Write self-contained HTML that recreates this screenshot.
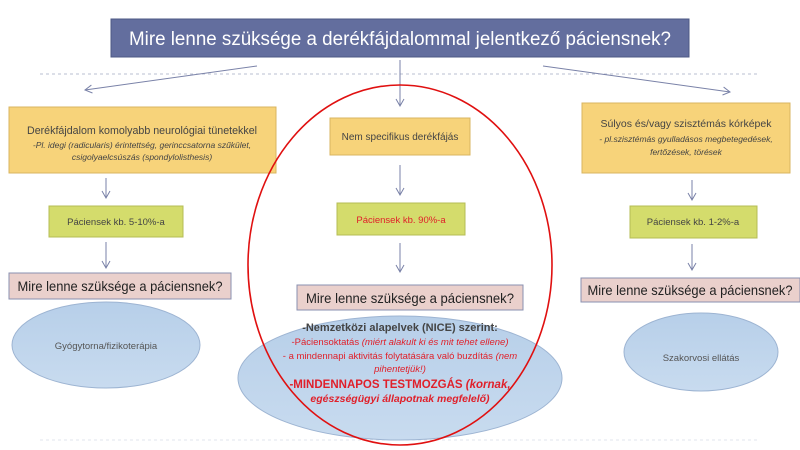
<!DOCTYPE html>
<html><head><meta charset="utf-8"><style>
html,body{margin:0;padding:0;background:#fff;width:800px;height:450px;overflow:hidden}
text{font-family:"Liberation Sans",sans-serif}
</style></head><body>
<svg width="800" height="450" viewBox="0 0 800 450" xmlns="http://www.w3.org/2000/svg">
<defs>
<marker id="a" markerWidth="10" markerHeight="10" refX="8" refY="5" orient="auto" markerUnits="userSpaceOnUse"><path d="M1,1 L8,5 L1,9" fill="none" stroke="#7a82a8" stroke-width="1"/></marker>
<linearGradient id="g" x1="0" y1="0" x2="0" y2="1"><stop offset="0" stop-color="#b7cfe9"/><stop offset="1" stop-color="#c8dbef"/></linearGradient>
</defs>
<line x1="40" y1="74" x2="760" y2="74" stroke="#b8bfd0" stroke-dasharray="3,3"/>
<line x1="40" y1="440" x2="760" y2="440" stroke="#e0e4ec" stroke-dasharray="3,3"/>
<rect x="111" y="19" width="578" height="38" fill="#636e9e" stroke="#4e5884"/>
<text x="400" y="45" font-size="19" fill="#fff" text-anchor="middle" textLength="542" lengthAdjust="spacingAndGlyphs">Mire lenne szüksége a derékfájdalommal jelentkező páciensnek?</text>
<g stroke="#7a82a8" stroke-width="1" fill="none" marker-end="url(#a)">
<line x1="257" y1="66" x2="85" y2="90"/>
<line x1="400" y1="60" x2="400" y2="106"/>
<line x1="543" y1="66" x2="730" y2="92"/>
<line x1="106" y1="178" x2="106" y2="198"/>
<line x1="400" y1="165" x2="400" y2="195"/>
<line x1="692" y1="180" x2="692" y2="200"/>
<line x1="106" y1="242" x2="106" y2="268"/>
<line x1="400" y1="243" x2="400" y2="272"/>
<line x1="692" y1="244" x2="692" y2="270"/>
</g>
<rect x="9" y="107" width="267" height="66" fill="#f7d37a" stroke="#d9b560"/>
<text x="142" y="134" font-size="11" fill="#444" text-anchor="middle" textLength="230" lengthAdjust="spacingAndGlyphs">Derékfájdalom komolyabb neurológiai tünetekkel</text>
<text x="142" y="148" font-size="8.5" fill="#444" text-anchor="middle" font-style="italic">-Pl. idegi (radicularis) érintettség, gerinccsatorna szűkület,</text>
<text x="142" y="160" font-size="8.5" fill="#444" text-anchor="middle" font-style="italic">csigolyaelcsúszás (spondylolisthesis)</text>
<rect x="330" y="118" width="140" height="37" fill="#f7d37a" stroke="#d9b560"/>
<text x="400" y="140" font-size="10" fill="#444" text-anchor="middle">Nem specifikus derékfájás</text>
<rect x="582" y="103" width="208" height="70" fill="#f7d37a" stroke="#d9b560"/>
<text x="686" y="127" font-size="10.5" fill="#444" text-anchor="middle">Súlyos és/vagy szisztémás kórképek</text>
<text x="686" y="142" font-size="8.5" fill="#444" text-anchor="middle" font-style="italic">- pl.szisztémás gyulladásos megbetegedések,</text>
<text x="686" y="155" font-size="8.5" fill="#444" text-anchor="middle" font-style="italic">fertőzések, törések</text>
<rect x="49" y="206" width="134" height="31" fill="#d4dc6c" stroke="#b5bc55"/>
<text x="116" y="225" font-size="9.5" fill="#444" text-anchor="middle">Páciensek kb. 5-10%-a</text>
<rect x="337" y="203" width="128" height="32" fill="#d4dc6c" stroke="#b5bc55"/>
<text x="401" y="223" font-size="9.5" fill="#e0202a" text-anchor="middle">Páciensek kb. 90%-a</text>
<rect x="630" y="206" width="127" height="32" fill="#d4dc6c" stroke="#b5bc55"/>
<text x="693" y="225" font-size="9.5" fill="#444" text-anchor="middle">Páciensek kb. 1-2%-a</text>
<rect x="9" y="273" width="222" height="26" fill="#ead0cc" stroke="#8a90b0"/>
<text x="120" y="291" font-size="14" fill="#222" text-anchor="middle" textLength="205" lengthAdjust="spacingAndGlyphs">Mire lenne szüksége a páciensnek?</text>
<rect x="297" y="285" width="226" height="25" fill="#ead0cc" stroke="#8a90b0"/>
<text x="410" y="303" font-size="14" fill="#222" text-anchor="middle" textLength="208" lengthAdjust="spacingAndGlyphs">Mire lenne szüksége a páciensnek?</text>
<rect x="581" y="278" width="219" height="24" fill="#ead0cc" stroke="#8a90b0"/>
<text x="690" y="295" font-size="14" fill="#222" text-anchor="middle" textLength="205" lengthAdjust="spacingAndGlyphs">Mire lenne szüksége a páciensnek?</text>
<ellipse cx="106" cy="345" rx="94" ry="43" fill="url(#g)" stroke="#9db4d2"/>
<text x="106" y="349" font-size="9.5" fill="#555" text-anchor="middle">Gyógytorna/fizikoterápia</text>
<ellipse cx="701" cy="352" rx="77" ry="39" fill="url(#g)" stroke="#9db4d2"/>
<text x="701" y="361" font-size="9.5" fill="#555" text-anchor="middle">Szakorvosi ellátás</text>
<ellipse cx="400" cy="378" rx="162" ry="62" fill="url(#g)" stroke="#9db4d2"/>
<text x="400" y="331" font-size="11" fill="#444" text-anchor="middle" font-weight="bold">-Nemzetközi alapelvek (NICE) szerint:</text>
<text x="400" y="345" font-size="9.5" fill="#e0202a" text-anchor="middle">-Páciensoktatás <tspan font-style="italic">(miért alakult ki és mit tehet ellene)</tspan></text>
<text x="400" y="359" font-size="9.5" fill="#e0202a" text-anchor="middle">- a mindennapi aktivitás folytatására való buzdítás <tspan font-style="italic">(nem</tspan></text>
<text x="400" y="372" font-size="9.5" fill="#e0202a" text-anchor="middle" font-style="italic">pihentetjük!)</text>
<text x="400" y="388" font-size="11.5" fill="#e0202a" text-anchor="middle" font-weight="bold">-MINDENNAPOS TESTMOZGÁS <tspan font-style="italic">(kornak,</tspan></text>
<text x="400" y="402" font-size="10.5" fill="#e0202a" text-anchor="middle" font-weight="bold" font-style="italic">egészségügyi állapotnak megfelelő)</text>
<ellipse cx="400" cy="265" rx="152" ry="180" fill="none" stroke="#e01010" stroke-width="1.6"/>
</svg>
</body></html>
